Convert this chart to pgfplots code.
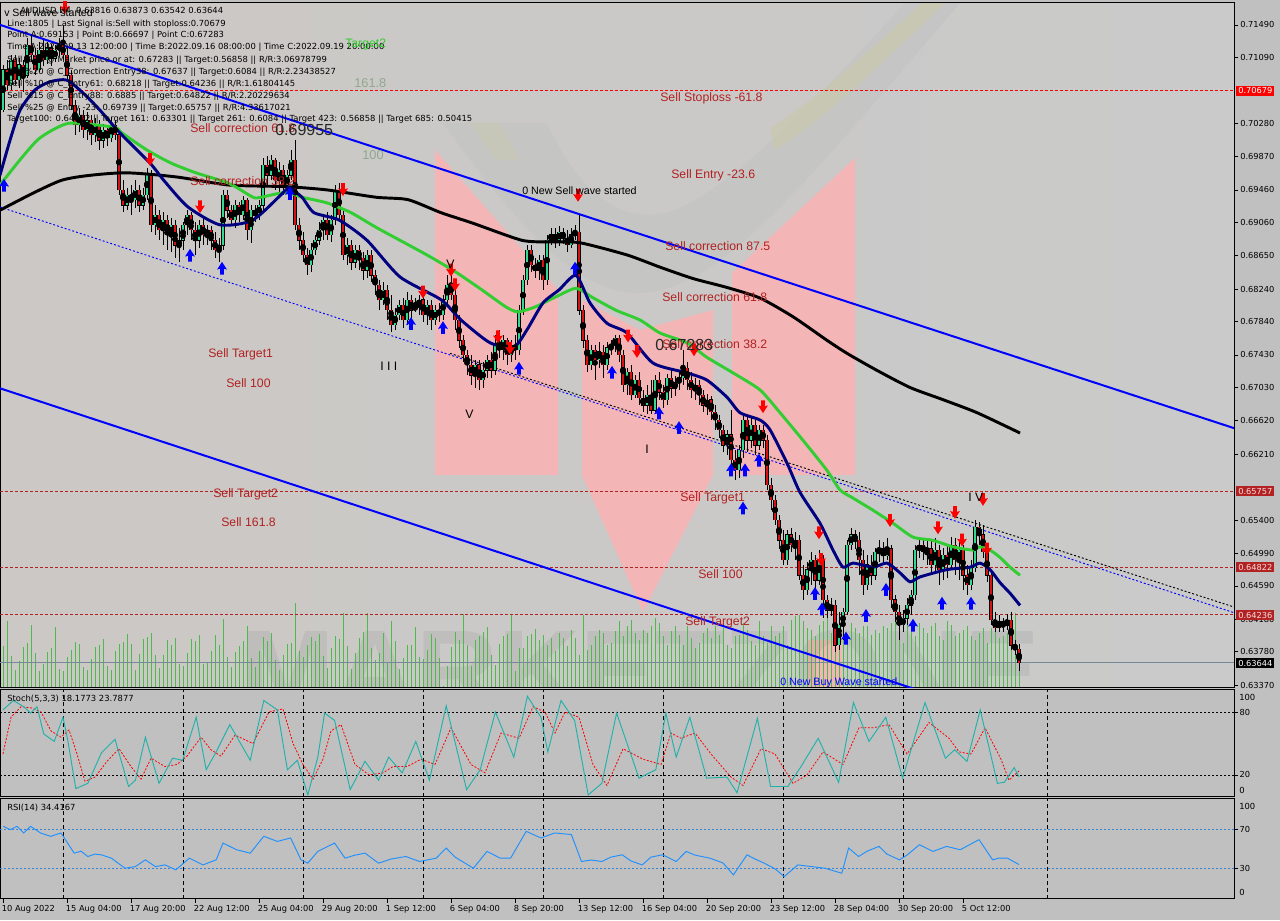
\documentclass[border=0pt]{standalone}
\usepackage{pgfplots}
\pgfplotsset{compat=1.18}
\usepackage{pgfplotstable}
\usepackage{fontspec}
\setmainfont{DejaVu Sans}
\newfontfamily\lib{Liberation Sans}
\definecolor{bgc}{HTML}{C0C0C0}
\definecolor{fb}{HTML}{B22222}
\definecolor{navyc}{HTML}{000080}
\definecolor{limec}{HTML}{32CD32}
\definecolor{lsg}{HTML}{20B2AA}
\definecolor{dodger}{HTML}{1E90FF}
\definecolor{rsilev}{HTML}{3C82D2}
\definecolor{bull}{HTML}{34D98F}
\definecolor{bear}{HTML}{D41414}
\definecolor{pinkw}{HTML}{F3B5B5}
\definecolor{greyw}{HTML}{C4C4C4}
\definecolor{olivew}{HTML}{C8C8B2}
\definecolor{boxr}{HTML}{B22222}
\definecolor{lastl}{HTML}{778899}
\definecolor{gtxt}{HTML}{8FA88F}
\definecolor{volg}{HTML}{4CBB4C}

\pgfdeclareplotmark{dnarr}{%
 \pgfpathmoveto{\pgfqpoint{-1.4pt}{5pt}}%
 \pgfpathlineto{\pgfqpoint{1.4pt}{5pt}}%
 \pgfpathlineto{\pgfqpoint{1.4pt}{0.6pt}}%
 \pgfpathlineto{\pgfqpoint{3.7pt}{1.2pt}}%
 \pgfpathlineto{\pgfqpoint{0pt}{-4.6pt}}%
 \pgfpathlineto{\pgfqpoint{-3.7pt}{1.2pt}}%
 \pgfpathlineto{\pgfqpoint{-1.4pt}{0.6pt}}%
 \pgfpathclose\pgfusepathqfill}
\pgfdeclareplotmark{uparr}{%
 \pgfpathmoveto{\pgfqpoint{-1.4pt}{-5pt}}%
 \pgfpathlineto{\pgfqpoint{1.4pt}{-5pt}}%
 \pgfpathlineto{\pgfqpoint{1.4pt}{-0.6pt}}%
 \pgfpathlineto{\pgfqpoint{3.7pt}{-1.2pt}}%
 \pgfpathlineto{\pgfqpoint{0pt}{4.6pt}}%
 \pgfpathlineto{\pgfqpoint{-3.7pt}{-1.2pt}}%
 \pgfpathlineto{\pgfqpoint{-1.4pt}{-0.6pt}}%
 \pgfpathclose\pgfusepathqfill}

\pgfplotstableread{
i o h l c
0 0.7044 0.7100 0.7042 0.7094
1 0.7094 0.7106 0.7069 0.7075
2 0.7075 0.7112 0.7069 0.7106
3 0.7106 0.7112 0.7075 0.7081
4 0.7081 0.7108 0.7071 0.7100
5 0.7100 0.7106 0.7066 0.7087
6 0.7087 0.7133 0.7084 0.7124
7 0.7124 0.7137 0.7103 0.7112
8 0.7112 0.7121 0.7087 0.7094
9 0.7094 0.7128 0.7091 0.7118
10 0.7118 0.7130 0.7098 0.7106
11 0.7106 0.7128 0.7101 0.7121
12 0.7121 0.7126 0.7098 0.7108
13 0.7108 0.7124 0.7103 0.7118
14 0.7118 0.7133 0.7111 0.7124
15 0.7124 0.7149 0.7106 0.7112
16 0.7112 0.7121 0.7081 0.7087
17 0.7087 0.7094 0.7044 0.7050
18 0.7050 0.7057 0.7014 0.7026
19 0.7026 0.7047 0.7017 0.7038
20 0.7038 0.7044 0.7010 0.7020
21 0.7020 0.7042 0.7007 0.7032
22 0.7032 0.7038 0.7001 0.7014
23 0.7014 0.7034 0.7005 0.7026
24 0.7026 0.7032 0.6995 0.7007
25 0.7007 0.7027 0.6998 0.7020
26 0.7020 0.7025 0.7000 0.7010
27 0.7010 0.7034 0.7005 0.7026
28 0.7026 0.7032 0.7007 0.7014
29 0.7014 0.7020 0.6940 0.6946
30 0.6946 0.6958 0.6919 0.6927
31 0.6927 0.6948 0.6921 0.6940
32 0.6940 0.6952 0.6915 0.6934
33 0.6934 0.6958 0.6924 0.6946
34 0.6946 0.6952 0.6919 0.6927
35 0.6927 0.6948 0.6921 0.6940
36 0.6940 0.6973 0.6934 0.6964
37 0.6964 0.6970 0.6894 0.6903
38 0.6903 0.6927 0.6891 0.6915
39 0.6915 0.6921 0.6884 0.6897
40 0.6897 0.6919 0.6878 0.6909
41 0.6909 0.6915 0.6872 0.6891
42 0.6891 0.6912 0.6870 0.6903
43 0.6903 0.6909 0.6862 0.6878
44 0.6878 0.6899 0.6857 0.6884
45 0.6884 0.6907 0.6872 0.6903
46 0.6903 0.6921 0.6891 0.6915
47 0.6915 0.6919 0.6884 0.6897
48 0.6897 0.6907 0.6866 0.6884
49 0.6884 0.6909 0.6875 0.6903
50 0.6903 0.6912 0.6878 0.6891
51 0.6891 0.6903 0.6878 0.6897
52 0.6897 0.6902 0.6872 0.6884
53 0.6884 0.6894 0.6862 0.6872
54 0.6872 0.6887 0.6857 0.6878
55 0.6878 0.6946 0.6872 0.6940
56 0.6940 0.6946 0.6911 0.6921
57 0.6921 0.6927 0.6903 0.6909
58 0.6909 0.6934 0.6899 0.6927
59 0.6927 0.6931 0.6907 0.6915
60 0.6915 0.6938 0.6909 0.6934
61 0.6934 0.6936 0.6884 0.6897
62 0.6897 0.6927 0.6881 0.6921
63 0.6921 0.6927 0.6907 0.6915
64 0.6915 0.6934 0.6909 0.6927
65 0.6927 0.6985 0.6921 0.6977
66 0.6977 0.6988 0.6952 0.6964
67 0.6964 0.6989 0.6958 0.6983
68 0.6983 0.6985 0.6946 0.6958
69 0.6958 0.6980 0.6940 0.6970
70 0.6970 0.6977 0.6940 0.6952
71 0.6952 0.6970 0.6943 0.6964
72 0.6964 0.6995 0.6958 0.6983
73 0.6983 0.7007 0.6897 0.6903
74 0.6903 0.6912 0.6872 0.6884
75 0.6884 0.6894 0.6857 0.6866
76 0.6866 0.6875 0.6841 0.6854
77 0.6854 0.6881 0.6845 0.6872
78 0.6872 0.6891 0.6866 0.6884
79 0.6884 0.6907 0.6878 0.6897
80 0.6897 0.6915 0.6884 0.6909
81 0.6909 0.6919 0.6884 0.6891
82 0.6891 0.6915 0.6882 0.6909
83 0.6909 0.6952 0.6903 0.6946
84 0.6946 0.6955 0.6909 0.6915
85 0.6915 0.6921 0.6860 0.6866
86 0.6866 0.6887 0.6854 0.6878
87 0.6878 0.6884 0.6847 0.6857
88 0.6857 0.6878 0.6850 0.6872
89 0.6872 0.6878 0.6847 0.6862
90 0.6862 0.6870 0.6835 0.6847
91 0.6847 0.6872 0.6838 0.6866
92 0.6866 0.6872 0.6833 0.6841
93 0.6841 0.6847 0.6817 0.6829
94 0.6829 0.6835 0.6798 0.6811
95 0.6811 0.6833 0.6804 0.6823
96 0.6823 0.6829 0.6786 0.6798
97 0.6798 0.6817 0.6771 0.6780
98 0.6780 0.6801 0.6774 0.6792
99 0.6792 0.6811 0.6786 0.6804
100 0.6804 0.6813 0.6776 0.6786
101 0.6786 0.6820 0.6780 0.6811
102 0.6811 0.6817 0.6788 0.6798
103 0.6798 0.6813 0.6796 0.6804
104 0.6804 0.6817 0.6792 0.6811
105 0.6811 0.6816 0.6784 0.6792
106 0.6792 0.6811 0.6780 0.6804
107 0.6804 0.6811 0.6774 0.6786
108 0.6786 0.6804 0.6780 0.6798
109 0.6798 0.6807 0.6784 0.6792
110 0.6792 0.6817 0.6786 0.6811
111 0.6811 0.6841 0.6804 0.6829
112 0.6829 0.6847 0.6811 0.6817
113 0.6817 0.6823 0.6774 0.6786
114 0.6786 0.6792 0.6752 0.6761
115 0.6761 0.6768 0.6734 0.6743
116 0.6743 0.6749 0.6718 0.6731
117 0.6731 0.6743 0.6706 0.6718
118 0.6718 0.6737 0.6702 0.6731
119 0.6731 0.6737 0.6700 0.6712
120 0.6712 0.6734 0.6702 0.6724
121 0.6724 0.6743 0.6715 0.6737
122 0.6737 0.6747 0.6715 0.6724
123 0.6724 0.6768 0.6718 0.6755
124 0.6755 0.6774 0.6739 0.6749
125 0.6749 0.6768 0.6737 0.6761
126 0.6761 0.6764 0.6731 0.6743
127 0.6743 0.6761 0.6734 0.6755
128 0.6755 0.6768 0.6737 0.6749
129 0.6749 0.6804 0.6743 0.6798
130 0.6798 0.6841 0.6792 0.6835
131 0.6835 0.6878 0.6829 0.6872
132 0.6872 0.6878 0.6845 0.6854
133 0.6854 0.6862 0.6838 0.6847
134 0.6847 0.6866 0.6835 0.6860
135 0.6860 0.6866 0.6823 0.6835
136 0.6835 0.6891 0.6829 0.6884
137 0.6884 0.6899 0.6878 0.6891
138 0.6891 0.6899 0.6875 0.6884
139 0.6884 0.6902 0.6877 0.6894
140 0.6894 0.6899 0.6879 0.6887
141 0.6887 0.6897 0.6870 0.6878
142 0.6878 0.6899 0.6875 0.6891
143 0.6891 0.6903 0.6884 0.6894
144 0.6894 0.6915 0.6792 0.6798
145 0.6798 0.6804 0.6752 0.6761
146 0.6761 0.6768 0.6722 0.6731
147 0.6731 0.6755 0.6724 0.6749
148 0.6749 0.6755 0.6712 0.6737
149 0.6737 0.6759 0.6727 0.6747
150 0.6747 0.6755 0.6715 0.6731
151 0.6731 0.6759 0.6724 0.6752
152 0.6752 0.6761 0.6743 0.6755
153 0.6755 0.6768 0.6747 0.6764
154 0.6764 0.6768 0.6734 0.6743
155 0.6743 0.6749 0.6697 0.6706
156 0.6706 0.6727 0.6694 0.6722
157 0.6722 0.6731 0.6688 0.6694
158 0.6694 0.6718 0.6690 0.6712
159 0.6712 0.6722 0.6681 0.6690
160 0.6690 0.6700 0.6673 0.6681
161 0.6681 0.6706 0.6670 0.6694
162 0.6694 0.6712 0.6670 0.6675
163 0.6675 0.6718 0.6673 0.6712
164 0.6712 0.6722 0.6688 0.6697
165 0.6697 0.6706 0.6678 0.6688
166 0.6688 0.6720 0.6681 0.6715
167 0.6715 0.6724 0.6690 0.6702
168 0.6702 0.6717 0.6693 0.6710
169 0.6710 0.6722 0.6700 0.6715
170 0.6715 0.6749 0.6706 0.6727
171 0.6727 0.6734 0.6700 0.6712
172 0.6712 0.6722 0.6690 0.6700
173 0.6700 0.6715 0.6688 0.6706
174 0.6706 0.6712 0.6681 0.6694
175 0.6694 0.6700 0.6673 0.6681
176 0.6681 0.6695 0.6669 0.6688
177 0.6688 0.6693 0.6663 0.6673
178 0.6673 0.6681 0.6651 0.6663
179 0.6663 0.6669 0.6641 0.6651
180 0.6651 0.6657 0.6624 0.6632
181 0.6632 0.6651 0.6620 0.6645
182 0.6645 0.6675 0.6604 0.6614
183 0.6614 0.6626 0.6589 0.6602
184 0.6602 0.6632 0.6592 0.6626
185 0.6626 0.6669 0.6616 0.6663
186 0.6663 0.6669 0.6624 0.6638
187 0.6638 0.6665 0.6629 0.6657
188 0.6657 0.6663 0.6620 0.6632
189 0.6632 0.6657 0.6626 0.6651
190 0.6651 0.6657 0.6629 0.6638
191 0.6638 0.6645 0.6577 0.6583
192 0.6583 0.6592 0.6552 0.6565
193 0.6565 0.6571 0.6534 0.6540
194 0.6540 0.6546 0.6505 0.6515
195 0.6515 0.6528 0.6485 0.6491
196 0.6491 0.6528 0.6485 0.6522
197 0.6522 0.6530 0.6501 0.6509
198 0.6509 0.6525 0.6491 0.6515
199 0.6515 0.6522 0.6466 0.6472
200 0.6472 0.6485 0.6442 0.6454
201 0.6454 0.6488 0.6448 0.6479
202 0.6479 0.6501 0.6460 0.6491
203 0.6491 0.6497 0.6456 0.6466
204 0.6466 0.6503 0.6460 0.6491
205 0.6491 0.6497 0.6419 0.6442
206 0.6442 0.6448 0.6419 0.6429
207 0.6429 0.6444 0.6422 0.6435
208 0.6435 0.6442 0.6378 0.6386
209 0.6386 0.6427 0.6380 0.6411
210 0.6411 0.6432 0.6392 0.6427
211 0.6427 0.6515 0.6423 0.6509
212 0.6509 0.6530 0.6503 0.6522
213 0.6522 0.6528 0.6505 0.6515
214 0.6515 0.6525 0.6472 0.6491
215 0.6491 0.6503 0.6448 0.6460
216 0.6460 0.6497 0.6454 0.6485
217 0.6485 0.6497 0.6460 0.6472
218 0.6472 0.6506 0.6466 0.6501
219 0.6501 0.6515 0.6488 0.6505
220 0.6505 0.6513 0.6485 0.6496
221 0.6496 0.6518 0.6491 0.6505
222 0.6505 0.6509 0.6432 0.6442
223 0.6442 0.6448 0.6415 0.6427
224 0.6427 0.6435 0.6392 0.6411
225 0.6411 0.6429 0.6402 0.6419
226 0.6419 0.6444 0.6411 0.6435
227 0.6435 0.6454 0.6423 0.6448
228 0.6448 0.6509 0.6442 0.6503
229 0.6503 0.6518 0.6493 0.6509
230 0.6509 0.6518 0.6491 0.6501
231 0.6501 0.6515 0.6485 0.6505
232 0.6505 0.6515 0.6472 0.6485
233 0.6485 0.6518 0.6476 0.6503
234 0.6503 0.6509 0.6460 0.6479
235 0.6479 0.6506 0.6466 0.6497
236 0.6497 0.6509 0.6469 0.6485
237 0.6485 0.6519 0.6479 0.6509
238 0.6509 0.6518 0.6472 0.6491
239 0.6491 0.6515 0.6466 0.6503
240 0.6503 0.6509 0.6454 0.6472
241 0.6472 0.6485 0.6448 0.6460
242 0.6460 0.6491 0.6454 0.6481
243 0.6481 0.6540 0.6476 0.6531
244 0.6531 0.6538 0.6509 0.6522
245 0.6522 0.6534 0.6493 0.6501
246 0.6501 0.6506 0.6464 0.6472
247 0.6472 0.6479 0.6411 0.6417
248 0.6417 0.6427 0.6402 0.6407
249 0.6407 0.6423 0.6402 0.6415
250 0.6415 0.6420 0.6402 0.6410
251 0.6410 0.6424 0.6405 0.6417
252 0.6417 0.6427 0.6380 0.6386
253 0.6386 0.6392 0.6374 0.6382
254 0.63816 0.63873 0.63542 0.63644
}\candles

% tick volume (bar heights, relative units)
\pgfplotstableread{
i v
0 42
1 67
2 32
3 18
4 27
5 41
6 45
7 63
8 35
9 17
10 24
11 36
12 40
13 61
14 19
15 17
16 31
17 38
18 46
19 44
20 21
21 18
22 29
23 41
24 43
25 49
26 22
27 18
28 37
29 44
30 46
31 54
32 44
33 18
34 34
35 49
36 51
37 55
38 33
39 20
40 33
41 48
42 43
43 50
44 24
45 22
46 35
47 49
48 47
49 53
50 24
51 26
52 37
53 53
54 43
55 69
56 31
57 21
58 36
59 42
60 47
61 62
62 30
63 21
64 37
65 51
66 47
67 55
68 28
69 18
70 33
71 44
72 45
73 85
74 37
75 31
76 43
77 51
78 47
79 54
80 32
81 20
82 40
83 52
84 49
85 75
86 42
87 19
88 35
89 50
90 56
91 75
92 40
93 28
94 35
95 55
96 26
97 67
98 47
99 19
100 30
101 43
102 43
103 61
104 31
105 29
106 38
107 54
108 50
109 30
110 2
111 22
112 41
113 56
114 48
115 74
116 43
117 22
118 48
119 52
120 56
121 61
122 33
123 23
124 44
125 52
126 54
127 74
128 17
129 40
130 40
131 52
132 54
133 59
134 48
135 53
136 43
137 50
138 37
139 55
140 50
141 42
142 58
143 50
144 33
145 73
146 38
147 43
148 52
149 58
150 55
151 43
152 45
153 57
154 67
155 52
156 62
157 68
158 55
159 48
160 58
161 55
162 62
163 70
164 65
165 52
166 43
167 57
168 62
169 53
170 43
171 62
172 50
173 40
174 45
175 55
176 60
177 50
178 62
179 53
180 60
181 43
182 40
183 52
184 53
185 65
186 58
187 47
188 43
189 67
190 52
191 45
192 62
193 52
194 55
195 62
196 43
197 68
198 72
199 73
200 67
201 60
202 58
203 52
204 63
205 67
206 70
207 55
208 65
209 58
210 62
211 50
212 65
213 60
214 55
215 62
216 62
217 53
218 58
219 55
220 62
221 60
222 65
223 67
224 55
225 45
226 65
227 58
228 52
229 65
230 60
231 55
232 62
233 65
234 52
235 48
236 67
237 63
238 52
239 55
240 58
241 62
242 52
243 48
244 55
245 60
246 45
247 60
248 58
249 50
250 52
251 55
252 62
253 75
254 40
}\vols

\pgfplotsset{
 panel/.style={
  scale only axis, width=925.5pt,
  xmin=-0.75, xmax=307.75,
  axis line style={black, line width=0.75pt},
  tick style={black, line width=0.5pt},
  yticklabel pos=right, ytick pos=right,
  xtick pos=bottom,
  tick align=outside, major tick length=3pt,
  ticklabel style={font=\fontsize{6.2}{7}\selectfont, black},
  scaled y ticks=false,
  clip=true,
 },
 wgrid/.style={
  extra x ticks={15,45,75,105,135,165,195,225,261},
  extra x tick labels={},
  extra x tick style={grid=major, major tick length=0pt},
  grid style={black, dash pattern=on 3pt off 2.25pt, line width=0.6pt},
 },
}

\begin{document}
\begin{tikzpicture}
\useasboundingbox (0,0) rectangle (960pt,690pt);
\fill[bgc] (0,0) rectangle (960pt,690pt);
\shade[left color={rgb,255:red,203;green,200;blue,197}, middle color={rgb,255:red,232;green,232;blue,232}, right color={rgb,255:red,202;green,202;blue,202}] (0pt,174pt) rectangle (925.5pt,687.75pt);

% watermark (pixel coordinates)
\begin{scope}[x=0.75pt,y=-0.75pt,yshift=690pt]
 \clip (0,3) rectangle (1234,688);
 \fill[greyw, opacity=0.8] (443,123) -- (546,123) .. controls (570,170) and (600,215) .. (650,215) .. controls (700,215) and (780,140) .. (905,3) -- (960,3) .. controls (800,190) and (720,290) .. (640,293) .. controls (580,295) and (520,230) .. cycle;
 \fill[olivew, opacity=0.85] (775,150) .. controls (830,115) and (885,60) .. (945,3) -- (922,3) .. controls (865,55) and (815,100) .. (770,128) -- cycle;
 \fill[olivew, opacity=0.6] (470,123) -- (500,123) -- (520,160) -- (495,160) -- cycle;
 \fill[pinkw] (435,150) -- (558,290) -- (558,475) -- (435,475) -- cycle;
 \fill[pinkw] (582,300) -- (640,330) -- (713,310) -- (713,475) -- (643,612) -- (582,475) -- cycle;
 \fill[pinkw] (732,273) -- (855,158) -- (855,475) -- (732,475) -- cycle;
 \fill[pinkw] (808,640) rectangle (842,688);
 \node[anchor=north west, inner sep=0pt, font=\lib\bfseries\fontsize{85}{85}\selectfont, text=gray, opacity=0.15] at (240,630) {MARKETZONE};
\end{scope}

% ---------- volume (drawn under the price panel)
\begin{axis}[scale only axis, width=925.5pt, height=513.75pt, at={(0pt,174pt)}, anchor=south west,
  xmin=-0.75, xmax=307.75, ymin=0, ymax=685, hide axis]
 \addplot[ycomb, volg, line width=0.75pt] table[x=i, y=v] {\vols};
\end{axis}

% ---------- main price panel
\begin{axis}[panel, at={(0pt,174pt)}, anchor=south west, height=513.75pt,
  ymin=0.63334, ymax=0.71759, xtick=\empty,
  ytick={0.7149,0.7109,0.7028,0.6987,0.6946,0.6906,0.6865,0.6824,0.6784,0.6743,0.6703,0.6662,0.6621,0.6540,0.6499,0.6459,0.6418,0.6378,0.6337},
  yticklabels={0.71490,0.71090,0.70280,0.69870,0.69460,0.69060,0.68650,0.68240,0.67840,0.67430,0.67030,0.66620,0.66210,0.65400,0.64990,0.64590,0.64180,0.63780,0.63370},
  yticklabel style={inner xsep=1.5pt}]
 % level lines
 \addplot[red, line width=0.6pt, dash pattern=on 2.25pt off 1.5pt] coordinates {(-0.75,0.70679)(307.75,0.70679)};
 \addplot[boxr, line width=0.6pt, dash pattern=on 2.25pt off 1.5pt] coordinates {(-0.75,0.65757)(307.75,0.65757)};
 \addplot[boxr, line width=0.6pt, dash pattern=on 2.25pt off 1.5pt] coordinates {(-0.75,0.64822)(307.75,0.64822)};
 \addplot[boxr, line width=0.6pt, dash pattern=on 2.25pt off 1.5pt] coordinates {(-0.75,0.64236)(307.75,0.64236)};
 \addplot[lastl, line width=0.75pt] coordinates {(-0.75,0.63644)(307.75,0.63644)};
 % channel lines
 \addplot[blue, line width=1.5pt] coordinates {(-0.75,0.7149)(307.75,0.6653)};
 \addplot[blue, line width=1.5pt] coordinates {(-0.75,0.6702)(307.75,0.6203)};
 \addplot[blue, line width=0.7pt, dash pattern=on 1.5pt off 1.5pt] coordinates {(-0.75,0.6925)(307.75,0.6426)};
 \addplot[black, line width=0.7pt, dash pattern=on 1.5pt off 1.5pt] coordinates {(111.75,0.6745)(307.75,0.6433)};
 % candles: wicks
 \addplot[only marks, mark=none, error bars/.cd, y dir=both, y explicit, error mark=none,
   error bar style={black, line width=0.55pt}]
   table[x=i, y expr={(\thisrow{h}+\thisrow{l})/2}, y error expr={(\thisrow{h}-\thisrow{l})/2}] {\candles};
 % bull bodies
 \addplot[only marks, mark=none, restrict expr to domain={\thisrow{c}-\thisrow{o}}{0:1},
   error bars/.cd, y dir=both, y explicit, error mark=none, error bar style={black, line width=2.4pt}]
   table[x=i, y expr={(\thisrow{o}+\thisrow{c})/2}, y error expr={abs(\thisrow{c}-\thisrow{o})/2+0.00003}] {\candles};
 \addplot[only marks, mark=none, restrict expr to domain={\thisrow{c}-\thisrow{o}}{0:1},
   error bars/.cd, y dir=both, y explicit, error mark=none, error bar style={bull, line width=1.85pt}]
   table[x=i, y expr={(\thisrow{o}+\thisrow{c})/2}, y error expr={abs(\thisrow{c}-\thisrow{o})/2}] {\candles};
 % bear bodies
 \addplot[only marks, mark=none, restrict expr to domain={\thisrow{c}-\thisrow{o}}{-1:0},
   error bars/.cd, y dir=both, y explicit, error mark=none, error bar style={black, line width=2.4pt}]
   table[x=i, y expr={(\thisrow{o}+\thisrow{c})/2}, y error expr={abs(\thisrow{c}-\thisrow{o})/2+0.00003}] {\candles};
 \addplot[only marks, mark=none, restrict expr to domain={\thisrow{c}-\thisrow{o}}{-1:0},
   error bars/.cd, y dir=both, y explicit, error mark=none, error bar style={bear, line width=1.85pt}]
   table[x=i, y expr={(\thisrow{o}+\thisrow{c})/2}, y error expr={abs(\thisrow{c}-\thisrow{o})/2}] {\candles};
 % moving averages
 \addplot[black, line width=2.2pt, smooth, tension=0.4] coordinates {
 (-0.75,0.6921)(14.75,0.6958)(29.75,0.6967)(43.25,0.6962)(56.5,0.6952)(70.75,0.6950)(81,0.6946)(93.25,0.6937)(101.25,0.6934)(109.5,0.6918)(117.5,0.6905)(129.75,0.6884)(137,0.6882)(144.25,0.6881)(156,0.6866)(164.25,0.6851)(172.5,0.6837)(181,0.6826)(189.25,0.6813)(197.5,0.6790)(206,0.6761)(211,0.6745)(218.5,0.6724)(226.75,0.6703)(235,0.6688)(243.5,0.6672)(254.25,0.6647)};
 \addplot[limec, line width=2.2pt, smooth, tension=0.4] coordinates {
 (-0.75,0.6952)(4.25,0.6983)(9.25,0.7010)(16.5,0.7028)(27.75,0.7023)(29.75,0.7016)(36,0.6995)(42,0.6979)(48.25,0.6967)(56.5,0.6954)(62.5,0.6937)(64.5,0.6937)(70.75,0.6943)(74.75,0.6937)(81,0.6930)(87,0.6918)(93.25,0.6900)(99.25,0.6884)(105.25,0.6868)(109.5,0.6856)(113.5,0.6844)(119.75,0.6823)(125.75,0.6802)(128.75,0.6796)(133,0.6802)(138,0.6814)(143.25,0.6825)(147.25,0.6814)(153.25,0.6798)(159.25,0.6786)(164.25,0.6770)(171,0.6758)(176,0.6740)(182.5,0.6721)(189.25,0.6700)(194.25,0.6672)(200,0.6638)(206,0.6601)(209.25,0.6577)(212.5,0.6567)(217.5,0.6552)(222.5,0.6536)(227.5,0.6519)(232.5,0.6515)(237.5,0.6507)(242.5,0.6503)(244.25,0.6507)(246.75,0.6503)(249.25,0.6494)(251.75,0.6482)(254.25,0.6472)};
 \addplot[navyc, line width=2.2pt, smooth, tension=0.4] coordinates {
 (-0.75,0.6964)(1.75,0.7007)(4.25,0.7044)(8,0.7069)(11.75,0.7079)(16,0.7081)(20.5,0.7063)(24.25,0.7044)(29.25,0.7016)(36.75,0.6979)(40.5,0.6956)(46.25,0.6925)(54.25,0.6903)(62.5,0.6909)(70.75,0.6946)(71.75,0.6948)(74.75,0.6937)(77.75,0.6918)(84,0.6909)(91,0.6884)(99.25,0.6839)(109.5,0.6811)(114.5,0.6786)(121.75,0.6758)(127.75,0.6753)(131,0.6774)(135,0.6807)(139,0.6823)(143.25,0.6841)(146.75,0.6807)(151,0.6782)(156,0.6770)(162.5,0.6733)(171,0.6721)(176,0.6712)(181,0.6691)(184.25,0.6672)(189.25,0.6663)(191.75,0.6651)(196,0.6610)(199.25,0.6574)(204.25,0.6536)(207.5,0.6503)(210,0.6482)(212.5,0.6487)(217.5,0.6482)(221,0.6487)(224.25,0.6475)(226.75,0.6464)(229.25,0.6470)(236,0.6479)(241.75,0.6482)(244.25,0.6487)(246.75,0.6479)(249.25,0.6463)(251.75,0.6450)(254.25,0.6435)};
 % signal arrows
 \addplot[only marks, mark=dnarr, red] coordinates {
 (15.5,0.7170)(36.75,0.6983)(49.25,0.6925)(85,0.6946)(105,0.6820)(112,0.6847)(113,0.6829)(123.75,0.6765)(126.75,0.6751)(143.75,0.6939)(156.25,0.6766)(158.5,0.6747)(172.75,0.6749)(190,0.6679)(204,0.6524)(204.5,0.6491)(221.75,0.6539)(233.75,0.6530)(238,0.6549)(239.75,0.6515)(245,0.6565)(246,0.6504)};
 \addplot[only marks, mark=uparr, blue] coordinates {
 (0.25,0.6952)(46.75,0.6866)(54.75,0.6850)(71.75,0.6942)(102,0.6782)(110,0.6777)(129,0.6727)(143,0.6850)(152.25,0.6722)(164,0.6672)(169,0.6654)(182,0.6602)(185.5,0.6602)(189,0.6614)(185,0.6555)(203,0.6450)(204.75,0.6431)(210.75,0.6395)(215.75,0.6423)(220.75,0.6455)(227.5,0.6411)(234.75,0.6438)(242,0.6438)};
\end{axis}

% ---------- Stochastic panel
\begin{axis}[panel, wgrid, at={(0pt,92.25pt)}, anchor=south west, height=80.25pt,
  ymin=-1, ymax=101, xtick=\empty, ytick={20,80}, yticklabels={20,80}, yticklabel style={inner xsep=1pt}]
 \addplot[black, line width=0.7pt, dash pattern=on 1.5pt off 1.5pt] coordinates {(-0.75,80)(307.75,80)};
 \addplot[black, line width=0.7pt, dash pattern=on 1.5pt off 1.5pt] coordinates {(-0.75,20)(307.75,20)};
 \addplot[red, line width=0.6pt, dash pattern=on 1.5pt off 1.2pt] coordinates {
 (0,40)(2,75)(4.5,85)(7,84)(9.5,80)(12,62)(14.5,56)(16.5,63)(18.5,40)(20.5,14)(23,18)(26,33)(29,45)(32,28)(34.5,16)(37,36)(40.5,28)(43.5,30)(46,38)(49.5,56)(52,44)(54.5,38)(58,58)(62.5,50)(66.5,80)(70,83)(72.5,50)(75,30)(77.5,16)(80,35)(82,62)(84.5,68)(88,30)(91.5,20)(95,22)(97.5,28)(101,28)(104.5,35)(108,30)(112,65)(117,30)(120.5,22)(124.5,60)(129,55)(132.5,85)(135.5,80)(138,60)(140.5,80)(144,75)(147.5,30)(151,10)(155,45)(160,35)(164.5,30)(167,60)(169.5,55)(173,60)(177,40)(182,18)(185,10)(189.5,45)(193,40)(197.5,12)(201,20)(205,42)(210,30)(214,65)(217.5,65)(221.5,68)(226,40)(231.5,70)(236.5,55)(239,42)(242,40)(245.5,65)(249.5,35)(251.5,15)(254,23.8)};
 \addplot[lsg, line width=0.7pt] coordinates {
 (0,82)(2.6,91)(5.2,85)(6.9,79)(8.5,85)(10.2,59)(12.8,52)(15,75)(16.2,53)(18.2,7)(21.2,12)(24.6,41)(28,54)(31.4,9)(33.1,15)(35.6,56)(39,12)(42.4,36)(44.9,34)(48.3,75)(50.8,25)(53.3,42)(56.7,68)(61.8,34)(65.2,91)(68.6,82)(71.1,25)(73.6,34)(76.2,1)(78.7,37)(80.4,79)(82.9,72)(86.8,6)(90.5,33)(93.9,15)(96.4,37)(99.8,22)(103.2,52)(106.6,15)(110.8,86)(115.9,6)(119.3,25)(123.1,80)(127.7,37)(131.1,95)(134.5,75)(136.2,42)(139.5,91)(142.9,72)(146.3,1)(149.7,12)(153.4,79)(159,17)(163.2,25)(165.7,79)(168.3,37)(171.7,75)(175.9,17)(181,18)(183.5,3)(188.6,74)(191.9,9)(196.2,9)(199.5,28)(203.8,55)(208.9,13)(212.6,89)(216.5,52)(220.7,75)(224.9,17)(230.5,89)(235.6,36)(237.9,44)(241,33)(244.3,82)(248.6,12)(250.3,13)(252.8,27)(254,18.2)};
\end{axis}

% ---------- RSI panel
\begin{axis}[panel, wgrid, at={(0pt,15.75pt)}, anchor=south west, height=75pt,
  ymin=-0.8, ymax=101.3, ytick={30,70}, yticklabels={30,70}, yticklabel style={inner xsep=1pt},
  xtick={0,16,32,48,64,80,96,112,128,144,160,176,192,208,224,240},
  xticklabels={10 Aug 2022,15 Aug 04:00,17 Aug 20:00,22 Aug 12:00,25 Aug 04:00,29 Aug 20:00,1 Sep 12:00,6 Sep 04:00,8 Sep 20:00,13 Sep 12:00,16 Sep 04:00,20 Sep 20:00,23 Sep 12:00,28 Sep 04:00,30 Sep 20:00,5 Oct 12:00},
  xticklabel style={anchor=north west, inner sep=0pt, yshift=-1.5pt, xshift=-1pt}]
 \addplot[rsilev, line width=0.7pt, dash pattern=on 1.5pt off 1.5pt] coordinates {(-0.75,70)(307.75,70)};
 \addplot[rsilev, line width=0.7pt, dash pattern=on 1.5pt off 1.5pt] coordinates {(-0.75,30)(307.75,30)};
 \addplot[dodger, line width=0.7pt] coordinates {
 (0.1,73.4)(1.8,70)(3.5,73.4)(5.2,66.6)(6.9,73.4)(9.4,66.6)(11.9,63.2)(14.5,66.6)(17.8,46)(19.5,48)(21.2,42.6)(23,45)(24.6,44.3)(27.1,40.9)(30.5,30.6)(33.1,32.3)(35.6,39.2)(38.1,32.3)(40.5,34)(43.2,29)(46.6,40.9)(50,34)(53.3,39.2)(55,56.3)(58.4,49.5)(61.8,46)(65.2,63.2)(68.6,58)(71.9,61.5)(74.5,39.2)(76.2,35.8)(78.7,47.8)(82.9,56.3)(85.5,40.9)(88,44)(90.5,46)(93.9,35.8)(97,40)(100.7,42.6)(104.1,37.5)(108.3,40.9)(110.8,51.2)(113,42)(117.6,30.6)(121,47.8)(124.3,40.9)(126.9,40.9)(130.8,68.3)(134.5,61.5)(137.9,66.6)(142.1,65)(144.6,37.5)(147,39)(149.7,37.5)(152,42)(154.8,44.3)(157,38)(159.8,34)(162,42)(164.9,44.3)(168.3,37.5)(170.8,47.8)(173,44)(176.7,40.9)(180,36)(182.6,23.8)(186,44.3)(188,40)(190.3,35.8)(193,30)(195.3,22.1)(198.7,34)(202.1,32.3)(205.5,30.6)(209.7,25.5)(211.4,51.2)(213.9,42.6)(216,48)(219,52.9)(221,45)(224.1,39.2)(226,44)(229.1,54.6)(232.5,47.8)(235.9,52.9)(239.3,49.5)(244,59.8)(247.4,39.2)(249,41)(251.1,40.9)(254,34.4)};
\end{axis}

% ---------- texts (pixel coordinates)
\begin{scope}[x=0.75pt,y=-0.75pt,yshift=690pt]
 \begin{scope}[every node/.style={anchor=west, inner sep=0pt, font=\fontsize{6.3}{8}\selectfont, text=black}]
  \node at (20,11) {AUDUSD,H4\ \ 0.63816 0.63873 0.63542 0.63644};
  \node at (7,24) {Line:1805 | Last Signal is:Sell with stoploss:0.70679};
  \node at (7,35) {Point A:0.69153 | Point B:0.66697 | Point C:0.67283};
  \node at (7,47) {Time A:2022.09.13 12:00:00 | Time B:2022.09.16 08:00:00 | Time C:2022.09.19 20:00:00};
  \node at (7,60) {Sell \%20 @ Market price or at: 0.67283 || Target:0.56858 || R/R:3.06978799};
  \node at (7,72) {Sell \%20 @ C\_Correction Entry38: 0.67637 || Target:0.6084 || R/R:2.23438527};
  \node at (7,84) {Sell \%10 @ C\_Entry61: 0.68218 || Target:0.64236 || R/R:1.61804145};
  \node at (7,96) {Sell \%15 @ C\_Entry88: 0.6885 || Target:0.64822 || R/R:2.20229634};
  \node at (7,108) {Sell \%25 @ Entry -23: 0.69739 || Target:0.65757 || R/R:4.33617021};
  \node at (7,119) {Target100: 0.64822 || Target 161: 0.63301 || Target 261: 0.6084 || Target 423: 0.56858 || Target 685: 0.50415};
  \node at (7,699) {Stoch(5,3,3) 18.1773 23.7877};
  \node at (7,808) {RSI(14) 34.4167};
  \node at (1239,697) {100};
  \node at (1239,790) {0};
  \node at (1239,806) {100};
  \node at (1239,892) {0};
 \end{scope}
 \node[anchor=west, inner sep=0pt, font=\lib\fontsize{7.9}{9}\selectfont] at (4,13) {v Sell wave started};
 \begin{scope}[every node/.style={anchor=west, inner sep=0pt, font=\lib\fontsize{9.2}{11}\selectfont, text=fb}]
  \node at (660,98) {Sell Stoploss -61.8};
  \node at (671,175) {Sell Entry -23.6};
  \node at (665,246) {Sell correction 87.5};
  \node at (662,297) {Sell correction 61.8};
  \node at (662,344) {Sell correction 38.2};
  \node at (208,354) {Sell Target1};
  \node at (226,383) {Sell 100};
  \node at (213,494) {Sell Target2};
  \node at (221,522) {Sell 161.8};
  \node at (680,498) {Sell Target1};
  \node at (698,574) {Sell 100};
  \node at (685,622) {Sell Target2};
  \node at (190,128) {Sell correction 61.8};
  \node at (190,181) {Sell correction 38.2};
 \end{scope}
 \node[anchor=west, inner sep=0pt, font=\lib\fontsize{12}{13}\selectfont, text=black!85] at (275,130) {0.69955};
 \node[anchor=west, inner sep=0pt, font=\lib\fontsize{12}{13}\selectfont, text=black!85] at (655,345) {0.67283};
 \node[anchor=west, inner sep=0pt, font=\lib\fontsize{8}{9}\selectfont, text=black] at (522,191) {0 New Sell wave started};
 \node[anchor=west, inner sep=0pt, font=\lib\fontsize{8}{9}\selectfont, text=blue] at (780,683) {0 New Buy Wave started};
 \node[anchor=west, inner sep=0pt, font=\lib\fontsize{9.2}{11}\selectfont, text=limec] at (345,45) {Target2};
 \node[anchor=west, inner sep=0pt, font=\lib\fontsize{9.6}{11}\selectfont, text=gtxt] at (354,83) {161.8};
 \node[anchor=west, inner sep=0pt, font=\lib\fontsize{9.6}{11}\selectfont, text=gtxt] at (362,155) {100};
 \begin{scope}[every node/.style={anchor=west, inner sep=0pt, font=\lib\fontsize{9.2}{11}\selectfont, text=black}]
  \node at (380,366) {I I I};
  \node at (465,414) {V};
  \node at (645,449) {I};
  \node at (446,264) {V};
  \node at (968,497) {I V};
 \end{scope}
 % price boxes
 \begin{scope}[every node/.style={anchor=west, inner xsep=1.5pt, inner ysep=1.2pt, font=\fontsize{6.2}{7}\selectfont, minimum height=8.2pt}]
  \node[fill=red, text=white] at (1236,91) {0.70679};
  \node[fill=boxr, text=white!85!boxr] at (1236,491) {0.65757};
  \node[fill=boxr, text=white!85!boxr] at (1236,567) {0.64822};
  \node[fill=boxr, text=white!85!boxr] at (1236,615) {0.64236};
  \node[fill=black, text=white] at (1236,663) {0.63644};
 \end{scope}
\end{scope}
\end{tikzpicture}
\end{document}
